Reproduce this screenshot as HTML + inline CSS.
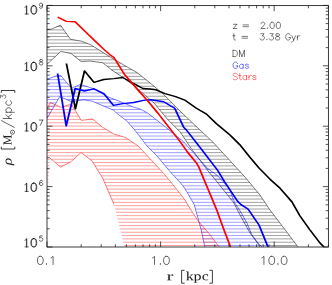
<!DOCTYPE html><html><head><meta charset="utf-8"><style>html,body{margin:0;padding:0;background:#fff;overflow:hidden}svg{display:block}</style></head><body><svg width="332" height="285" viewBox="0 0 332 285">
<rect width="100%" height="100%" fill="#fff"/>
<defs>
<clipPath id="cdm"><polygon points="47.0,29.4 51.0,29.3 60.4,25.1 70.5,39.3 81.1,41.1 90.6,44.7 113.7,59.2 137.4,72.8 150.0,82.9 161.9,92.8 169.2,100.0 180.0,111.0 200.0,130.0 212.8,142.0 230.0,160.7 244.7,176.7 260.0,195.0 270.0,210.0 286.0,231.0 298.0,247.0 260.0,247.0 256.0,241.0 250.0,233.0 240.0,215.0 233.8,202.8 215.5,180.0 207.3,170.0 191.0,148.2 180.0,131.8 167.4,119.2 153.7,102.7 133.8,85.6 122.8,77.4 111.9,70.1 102.8,62.8 90.0,61.0 81.1,61.5 70.9,53.4 60.7,51.5 47.0,64.3"/></clipPath>
<clipPath id="cbl"><polygon points="47.0,79.2 56.6,75.9 60.8,75.6 70.3,86.9 72.1,87.9 80.4,84.4 94.5,89.0 106.6,96.3 120.2,101.6 133.8,107.2 140.0,109.0 147.3,112.8 163.7,125.5 183.8,142.0 207.4,168.3 217.4,175.5 229.2,188.2 234.7,202.8 239.0,209.0 247.0,223.0 252.0,235.0 258.0,243.0 262.0,247.0 204.8,247.0 201.0,229.2 197.8,217.7 194.2,204.5 185.8,190.0 182.6,185.3 169.1,170.5 156.8,155.8 147.0,146.0 140.0,136.8 134.7,130.0 126.9,121.0 117.4,113.8 113.3,110.0 104.6,106.5 92.1,101.1 83.7,99.9 71.3,101.5 59.7,96.7 47.0,118.5"/></clipPath>
<clipPath id="crd"><polygon points="47.0,108.8 50.3,102.5 60.8,107.3 71.3,104.1 81.3,120.4 92.6,118.9 102.4,127.1 113.7,133.9 125.6,137.5 138.4,146.2 151.9,160.7 165.4,175.4 176.4,188.9 185.0,200.0 190.0,208.5 198.2,221.0 210.0,234.7 219.2,247.0 124.4,247.0 114.0,204.6 103.0,178.8 92.0,160.9 81.1,152.5 70.7,162.0 60.5,167.1 50.0,158.1 47.3,200.0"/></clipPath>
<clipPath id="cplot"><rect x="47.0" y="5.6" width="281.4" height="241.4"/></clipPath>
</defs>
<g clip-path="url(#cplot)">
<path d="M47.0 6.68H328.4M47.0 10.00H328.4M47.0 13.31H328.4M47.0 16.63H328.4M47.0 19.95H328.4M47.0 23.26H328.4M47.0 26.58H328.4M47.0 29.90H328.4M47.0 33.21H328.4M47.0 36.53H328.4M47.0 39.85H328.4M47.0 43.17H328.4M47.0 46.48H328.4M47.0 49.80H328.4M47.0 53.12H328.4M47.0 56.43H328.4M47.0 59.75H328.4M47.0 63.07H328.4M47.0 66.38H328.4M47.0 69.70H328.4M47.0 73.02H328.4M47.0 76.34H328.4M47.0 79.65H328.4M47.0 82.97H328.4M47.0 86.29H328.4M47.0 89.60H328.4M47.0 92.92H328.4M47.0 96.24H328.4M47.0 99.56H328.4M47.0 102.87H328.4M47.0 106.19H328.4M47.0 109.51H328.4M47.0 112.82H328.4M47.0 116.14H328.4M47.0 119.46H328.4M47.0 122.77H328.4M47.0 126.09H328.4M47.0 129.41H328.4M47.0 132.73H328.4M47.0 136.04H328.4M47.0 139.36H328.4M47.0 142.68H328.4M47.0 145.99H328.4M47.0 149.31H328.4M47.0 152.63H328.4M47.0 155.94H328.4M47.0 159.26H328.4M47.0 162.58H328.4M47.0 165.90H328.4M47.0 169.21H328.4M47.0 172.53H328.4M47.0 175.85H328.4M47.0 179.16H328.4M47.0 182.48H328.4M47.0 185.80H328.4M47.0 189.11H328.4M47.0 192.43H328.4M47.0 195.75H328.4M47.0 199.07H328.4M47.0 202.38H328.4M47.0 205.70H328.4M47.0 209.02H328.4M47.0 212.33H328.4M47.0 215.65H328.4M47.0 218.97H328.4M47.0 222.28H328.4M47.0 225.60H328.4M47.0 228.92H328.4M47.0 232.24H328.4M47.0 235.55H328.4M47.0 238.87H328.4M47.0 242.19H328.4M47.0 245.50H328.4" stroke="#000" stroke-width="0.65" stroke-opacity="0.58" fill="none" clip-path="url(#cdm)"/>
<polyline points="47.0,29.4 51.0,29.3 60.4,25.1 70.5,39.3 81.1,41.1 90.6,44.7 113.7,59.2 137.4,72.8 150.0,82.9 161.9,92.8 169.2,100.0 180.0,111.0 200.0,130.0 212.8,142.0 230.0,160.7 244.7,176.7 260.0,195.0 270.0,210.0 286.0,231.0 298.0,247.0" fill="none" stroke="#000" stroke-width="0.72" stroke-opacity="0.72"/>
<polyline points="47.0,64.3 60.7,51.5 70.9,53.4 81.1,61.5 90.0,61.0 102.8,62.8 111.9,70.1 122.8,77.4 133.8,85.6 153.7,102.7 167.4,119.2 180.0,131.8 191.0,148.2 207.3,170.0 215.5,180.0 233.8,202.8 240.0,215.0 250.0,233.0 256.0,241.0 260.0,247.0" fill="none" stroke="#000" stroke-width="0.72" stroke-opacity="0.72"/>
<path d="M47.0 6.68H328.4M47.0 10.00H328.4M47.0 13.31H328.4M47.0 16.63H328.4M47.0 19.95H328.4M47.0 23.26H328.4M47.0 26.58H328.4M47.0 29.90H328.4M47.0 33.21H328.4M47.0 36.53H328.4M47.0 39.85H328.4M47.0 43.17H328.4M47.0 46.48H328.4M47.0 49.80H328.4M47.0 53.12H328.4M47.0 56.43H328.4M47.0 59.75H328.4M47.0 63.07H328.4M47.0 66.38H328.4M47.0 69.70H328.4M47.0 73.02H328.4M47.0 76.34H328.4M47.0 79.65H328.4M47.0 82.97H328.4M47.0 86.29H328.4M47.0 89.60H328.4M47.0 92.92H328.4M47.0 96.24H328.4M47.0 99.56H328.4M47.0 102.87H328.4M47.0 106.19H328.4M47.0 109.51H328.4M47.0 112.82H328.4M47.0 116.14H328.4M47.0 119.46H328.4M47.0 122.77H328.4M47.0 126.09H328.4M47.0 129.41H328.4M47.0 132.73H328.4M47.0 136.04H328.4M47.0 139.36H328.4M47.0 142.68H328.4M47.0 145.99H328.4M47.0 149.31H328.4M47.0 152.63H328.4M47.0 155.94H328.4M47.0 159.26H328.4M47.0 162.58H328.4M47.0 165.90H328.4M47.0 169.21H328.4M47.0 172.53H328.4M47.0 175.85H328.4M47.0 179.16H328.4M47.0 182.48H328.4M47.0 185.80H328.4M47.0 189.11H328.4M47.0 192.43H328.4M47.0 195.75H328.4M47.0 199.07H328.4M47.0 202.38H328.4M47.0 205.70H328.4M47.0 209.02H328.4M47.0 212.33H328.4M47.0 215.65H328.4M47.0 218.97H328.4M47.0 222.28H328.4M47.0 225.60H328.4M47.0 228.92H328.4M47.0 232.24H328.4M47.0 235.55H328.4M47.0 238.87H328.4M47.0 242.19H328.4M47.0 245.50H328.4" stroke="#00f" stroke-width="0.65" stroke-opacity="0.58" fill="none" clip-path="url(#cbl)"/>
<polyline points="47.0,79.2 56.6,75.9 60.8,75.6 70.3,86.9 72.1,87.9 80.4,84.4 94.5,89.0 106.6,96.3 120.2,101.6 133.8,107.2 140.0,109.0 147.3,112.8 163.7,125.5 183.8,142.0 207.4,168.3 217.4,175.5 229.2,188.2 234.7,202.8 239.0,209.0 247.0,223.0 252.0,235.0 258.0,243.0 262.0,247.0" fill="none" stroke="#00f" stroke-width="0.72" stroke-opacity="0.72"/>
<polyline points="47.0,118.5 59.7,96.7 71.3,101.5 83.7,99.9 92.1,101.1 104.6,106.5 113.3,110.0 117.4,113.8 126.9,121.0 134.7,130.0 140.0,136.8 147.0,146.0 156.8,155.8 169.1,170.5 182.6,185.3 185.8,190.0 194.2,204.5 197.8,217.7 201.0,229.2 204.8,247.0" fill="none" stroke="#00f" stroke-width="0.72" stroke-opacity="0.72"/>
<path d="M47.0 6.68H328.4M47.0 10.00H328.4M47.0 13.31H328.4M47.0 16.63H328.4M47.0 19.95H328.4M47.0 23.26H328.4M47.0 26.58H328.4M47.0 29.90H328.4M47.0 33.21H328.4M47.0 36.53H328.4M47.0 39.85H328.4M47.0 43.17H328.4M47.0 46.48H328.4M47.0 49.80H328.4M47.0 53.12H328.4M47.0 56.43H328.4M47.0 59.75H328.4M47.0 63.07H328.4M47.0 66.38H328.4M47.0 69.70H328.4M47.0 73.02H328.4M47.0 76.34H328.4M47.0 79.65H328.4M47.0 82.97H328.4M47.0 86.29H328.4M47.0 89.60H328.4M47.0 92.92H328.4M47.0 96.24H328.4M47.0 99.56H328.4M47.0 102.87H328.4M47.0 106.19H328.4M47.0 109.51H328.4M47.0 112.82H328.4M47.0 116.14H328.4M47.0 119.46H328.4M47.0 122.77H328.4M47.0 126.09H328.4M47.0 129.41H328.4M47.0 132.73H328.4M47.0 136.04H328.4M47.0 139.36H328.4M47.0 142.68H328.4M47.0 145.99H328.4M47.0 149.31H328.4M47.0 152.63H328.4M47.0 155.94H328.4M47.0 159.26H328.4M47.0 162.58H328.4M47.0 165.90H328.4M47.0 169.21H328.4M47.0 172.53H328.4M47.0 175.85H328.4M47.0 179.16H328.4M47.0 182.48H328.4M47.0 185.80H328.4M47.0 189.11H328.4M47.0 192.43H328.4M47.0 195.75H328.4M47.0 199.07H328.4M47.0 202.38H328.4M47.0 205.70H328.4M47.0 209.02H328.4M47.0 212.33H328.4M47.0 215.65H328.4M47.0 218.97H328.4M47.0 222.28H328.4M47.0 225.60H328.4M47.0 228.92H328.4M47.0 232.24H328.4M47.0 235.55H328.4M47.0 238.87H328.4M47.0 242.19H328.4M47.0 245.50H328.4" stroke="#f00" stroke-width="0.65" stroke-opacity="0.58" fill="none" clip-path="url(#crd)"/>
<polyline points="47.0,108.8 50.3,102.5 60.8,107.3 71.3,104.1 81.3,120.4 92.6,118.9 102.4,127.1 113.7,133.9 125.6,137.5 138.4,146.2 151.9,160.7 165.4,175.4 176.4,188.9 185.0,200.0 190.0,208.5 198.2,221.0 210.0,234.7 219.2,247.0" fill="none" stroke="#f00" stroke-width="0.72" stroke-opacity="0.72"/>
<polyline points="50.0,158.1 60.5,167.1 70.7,162.0 81.1,152.5 92.0,160.9 103.0,178.8 114.0,204.6" fill="none" stroke="#f00" stroke-width="0.72" stroke-opacity="0.72"/>
<polyline points="51.08,63.5 58.00,108.9 65.00,70.9 72.31,82.4 79.77,79.5 87.46,78.6 94.46,77.5 102.92,83.7 109.92,88.5 115.38,89.0 120.00,89.8 126.92,93.6 135.08,96.6 142.62,100.4 151.08,108.2 158.85,114.1 166.54,123.8 176.92,135.0 184.46,144.7 192.31,157.3 199.31,168.2 207.69,179.2 215.46,188.3 220.38,195.6 224.62,202.0 230.77,216.0 238.46,230.0 246.15,243.0 249.23,247.0" fill="none" stroke="#000" stroke-width="1.4" stroke-linejoin="round" transform="scale(1.3 1)"/>
<polyline points="44.31,73.5 50.92,125.9 57.85,88.5 64.92,91.0 72.23,88.8 79.92,93.6 87.23,105.4 94.46,103.6 102.92,102.5 111.31,100.1 116.08,99.8 125.92,101.7 134.38,108.2 141.38,127.4 143.38,130.0 153.85,147.4 167.23,170.0 172.85,182.0 182.62,201.0 185.38,204.6 190.77,209.0 199.23,225.0 206.15,247.0" fill="none" stroke="#00f" stroke-width="1.4" stroke-linejoin="round" transform="scale(1.3 1)"/>
<polyline points="44.35,17.2 51.08,21.4 57.77,21.7 64.85,30.6 73.31,41.3 79.46,48.9 84.31,54.4 87.62,57.5 95.92,74.7 107.15,91.5 113.31,100.3 121.69,113.5 125.92,120.7 138.46,141.5 144.15,152.0 151.08,162.8 153.08,167.5 157.38,181.0 159.85,188.6 163.69,200.5 166.62,209.6 172.00,228.9 177.31,247.0" fill="none" stroke="#f00" stroke-width="1.4" stroke-linejoin="round" transform="scale(1.3 1)"/>
</g>
<rect x="47.0" y="5.6" width="281.4" height="241.4" fill="none" stroke="#1a1a1a" stroke-width="0.85"/>
<path d="M47.00 247.0v-5.5M47.00 5.6v5.5M81.20 247.0v-2.7M81.20 5.6v2.7M101.20 247.0v-2.7M101.20 5.6v2.7M115.39 247.0v-2.7M115.39 5.6v2.7M126.40 247.0v-2.7M126.40 5.6v2.7M135.40 247.0v-2.7M135.40 5.6v2.7M143.00 247.0v-2.7M143.00 5.6v2.7M149.59 247.0v-2.7M149.59 5.6v2.7M155.40 247.0v-2.7M155.40 5.6v2.7M160.60 247.0v-5.5M160.60 5.6v5.5M194.80 247.0v-2.7M194.80 5.6v2.7M214.80 247.0v-2.7M214.80 5.6v2.7M228.99 247.0v-2.7M228.99 5.6v2.7M240.00 247.0v-2.7M240.00 5.6v2.7M249.00 247.0v-2.7M249.00 5.6v2.7M256.60 247.0v-2.7M256.60 5.6v2.7M263.19 247.0v-2.7M263.19 5.6v2.7M269.00 247.0v-2.7M269.00 5.6v2.7M274.20 247.0v-5.5M274.20 5.6v5.5M308.40 247.0v-2.7M308.40 5.6v2.7M328.40 247.0v-2.7M328.40 5.6v2.7M47.0 247.00h5.5M328.4 247.00h-5.5M47.0 228.82h2.7M328.4 228.82h-2.7M47.0 218.18h2.7M328.4 218.18h-2.7M47.0 210.64h2.7M328.4 210.64h-2.7M47.0 204.78h2.7M328.4 204.78h-2.7M47.0 200.00h2.7M328.4 200.00h-2.7M47.0 195.96h2.7M328.4 195.96h-2.7M47.0 192.45h2.7M328.4 192.45h-2.7M47.0 189.36h2.7M328.4 189.36h-2.7M47.0 186.60h5.5M328.4 186.60h-5.5M47.0 168.42h2.7M328.4 168.42h-2.7M47.0 157.78h2.7M328.4 157.78h-2.7M47.0 150.24h2.7M328.4 150.24h-2.7M47.0 144.38h2.7M328.4 144.38h-2.7M47.0 139.60h2.7M328.4 139.60h-2.7M47.0 135.56h2.7M328.4 135.56h-2.7M47.0 132.05h2.7M328.4 132.05h-2.7M47.0 128.96h2.7M328.4 128.96h-2.7M47.0 126.20h5.5M328.4 126.20h-5.5M47.0 108.02h2.7M328.4 108.02h-2.7M47.0 97.38h2.7M328.4 97.38h-2.7M47.0 89.84h2.7M328.4 89.84h-2.7M47.0 83.98h2.7M328.4 83.98h-2.7M47.0 79.20h2.7M328.4 79.20h-2.7M47.0 75.16h2.7M328.4 75.16h-2.7M47.0 71.65h2.7M328.4 71.65h-2.7M47.0 68.56h2.7M328.4 68.56h-2.7M47.0 65.80h5.5M328.4 65.80h-5.5M47.0 47.62h2.7M328.4 47.62h-2.7M47.0 36.98h2.7M328.4 36.98h-2.7M47.0 29.44h2.7M328.4 29.44h-2.7M47.0 23.58h2.7M328.4 23.58h-2.7M47.0 18.80h2.7M328.4 18.80h-2.7M47.0 14.76h2.7M328.4 14.76h-2.7M47.0 11.25h2.7M328.4 11.25h-2.7M47.0 8.16h2.7M328.4 8.16h-2.7M47.0 5.40h5.5M328.4 5.40h-5.5" stroke="#1a1a1a" stroke-width="0.75" fill="none"/>
<path d="M24.82 240.19L25.61 239.79L26.80 238.61L26.80 246.90M26.40 239.00L26.40 246.90M25.02 246.90L28.38 246.90M33.37 238.61L32.09 239.00L31.24 240.19L30.81 242.16L30.81 243.34L31.24 245.32L32.09 246.50L33.37 246.90L34.23 246.90L35.51 246.50L36.36 245.32L36.79 243.34L36.79 242.16L36.36 240.19L35.51 239.00L34.23 238.61L33.37 238.61M33.46 238.61L32.44 239.00L31.76 240.19L31.42 242.16L31.42 243.34L31.76 245.32L32.44 246.50L33.46 246.90L34.14 246.90L35.16 246.50L35.84 245.32L36.18 243.34L36.18 242.16L35.84 240.19L35.16 239.00L34.14 238.61L33.46 238.61M24.82 184.69L25.61 184.29L26.80 183.11L26.80 191.40M26.40 183.50L26.40 191.40M25.02 191.40L28.38 191.40M33.37 183.11L32.09 183.50L31.24 184.69L30.81 186.66L30.81 187.84L31.24 189.82L32.09 191.00L33.37 191.40L34.23 191.40L35.51 191.00L36.36 189.82L36.79 187.84L36.79 186.66L36.36 184.69L35.51 183.50L34.23 183.11L33.37 183.11M33.46 183.11L32.44 183.50L31.76 184.69L31.42 186.66L31.42 187.84L31.76 189.82L32.44 191.00L33.46 191.40L34.14 191.40L35.16 191.00L35.84 189.82L36.18 187.84L36.18 186.66L35.84 184.69L35.16 183.50L34.14 183.11L33.46 183.11M24.82 124.28L25.61 123.89L26.80 122.70L26.80 131.00M26.40 123.10L26.40 131.00M25.02 131.00L28.38 131.00M33.37 122.70L32.09 123.10L31.24 124.28L30.81 126.26L30.81 127.44L31.24 129.42L32.09 130.60L33.37 131.00L34.23 131.00L35.51 130.60L36.36 129.42L36.79 127.44L36.79 126.26L36.36 124.28L35.51 123.10L34.23 122.70L33.37 122.70M33.46 122.70L32.44 123.10L31.76 124.28L31.42 126.26L31.42 127.44L31.76 129.42L32.44 130.60L33.46 131.00L34.14 131.00L35.16 130.60L35.84 129.42L36.18 127.44L36.18 126.26L35.84 124.28L35.16 123.10L34.14 122.70L33.46 122.70M24.82 63.89L25.61 63.49L26.80 62.31L26.80 70.60M26.40 62.70L26.40 70.60M25.02 70.60L28.38 70.60M33.37 62.31L32.09 62.70L31.24 63.89L30.81 65.86L30.81 67.05L31.24 69.02L32.09 70.21L33.37 70.60L34.23 70.60L35.51 70.21L36.36 69.02L36.79 67.05L36.79 65.86L36.36 63.89L35.51 62.70L34.23 62.31L33.37 62.31M33.46 62.31L32.44 62.70L31.76 63.89L31.42 65.86L31.42 67.05L31.76 69.02L32.44 70.21L33.46 70.60L34.14 70.60L35.16 70.21L35.84 69.02L36.18 67.05L36.18 65.86L35.84 63.89L35.16 62.70L34.14 62.31L33.46 62.31M24.82 7.29L25.61 6.89L26.80 5.71L26.80 14.00M26.40 6.10L26.40 14.00M25.02 14.00L28.38 14.00M33.37 5.71L32.09 6.10L31.24 7.29L30.81 9.26L30.81 10.45L31.24 12.42L32.09 13.61L33.37 14.00L34.23 14.00L35.51 13.61L36.36 12.42L36.79 10.45L36.79 9.26L36.36 7.29L35.51 6.10L34.23 5.71L33.37 5.71M33.46 5.71L32.44 6.10L31.76 7.29L31.42 9.26L31.42 10.45L31.76 12.42L32.44 13.61L33.46 14.00L34.14 14.00L35.16 13.61L35.84 12.42L36.18 10.45L36.18 9.26L35.84 7.29L35.16 6.10L34.14 5.71L33.46 5.71" fill="none" stroke="#000" stroke-width="0.7" stroke-opacity="0.85" stroke-linecap="round" stroke-linejoin="round"/>
<path d="M42.30 235.95L39.80 235.95L39.55 238.20L39.80 237.95L40.55 237.70L41.30 237.70L42.05 237.95L42.55 238.45L42.80 239.20L42.80 239.70L42.55 240.45L42.05 240.95L41.30 241.20L40.55 241.20L39.80 240.95L39.55 240.70L39.30 240.20M42.55 181.20L42.30 180.70L41.55 180.45L41.05 180.45L40.30 180.70L39.80 181.45L39.55 182.70L39.55 183.95L39.80 184.95L40.30 185.45L41.05 185.70L41.30 185.70L42.05 185.45L42.55 184.95L42.80 184.20L42.80 183.95L42.55 183.20L42.05 182.70L41.30 182.45L41.05 182.45L40.30 182.70L39.80 183.20L39.55 183.95M42.80 120.05L40.30 125.30M39.30 120.05L42.80 120.05M40.55 59.65L39.80 59.90L39.55 60.40L39.55 60.90L39.80 61.40L40.30 61.65L41.30 61.90L42.05 62.15L42.55 62.65L42.80 63.15L42.80 63.90L42.55 64.40L42.30 64.65L41.55 64.90L40.55 64.90L39.80 64.65L39.55 64.40L39.30 63.90L39.30 63.15L39.55 62.65L40.05 62.15L40.80 61.90L41.80 61.65L42.30 61.40L42.55 60.90L42.55 60.40L42.30 59.90L41.55 59.65L40.55 59.65M42.55 4.80L42.30 5.55L41.80 6.05L41.05 6.30L40.80 6.30L40.05 6.05L39.55 5.55L39.30 4.80L39.30 4.55L39.55 3.80L40.05 3.30L40.80 3.05L41.05 3.05L41.80 3.30L42.30 3.80L42.55 4.80L42.55 6.05L42.30 7.30L41.80 8.05L41.05 8.30L40.55 8.30L39.80 8.05L39.55 7.55" fill="none" stroke="#000" stroke-width="0.7" stroke-opacity="0.85" stroke-linecap="round" stroke-linejoin="round"/>
<path d="M39.91 256.31L38.67 256.70L37.85 257.87L37.44 259.82L37.44 260.99L37.85 262.94L38.67 264.11L39.91 264.50L40.73 264.50L41.97 264.11L42.79 262.94L43.20 260.99L43.20 259.82L42.79 257.87L41.97 256.70L40.73 256.31L39.91 256.31M46.50 263.72L46.09 264.11L46.50 264.50L46.91 264.11L46.50 263.72M51.03 257.87L51.86 257.48L53.09 256.31L53.09 264.50M152.47 257.87L153.30 257.48L154.53 256.31L154.53 264.50M160.30 263.72L159.89 264.11L160.30 264.50L160.71 264.11L160.30 263.72M166.07 256.31L164.83 256.70L164.01 257.87L163.60 259.82L163.60 260.99L164.01 262.94L164.83 264.11L166.07 264.50L166.89 264.50L168.13 264.11L168.95 262.94L169.36 260.99L169.36 259.82L168.95 257.87L168.13 256.70L166.89 256.31L166.07 256.31M261.87 257.87L262.70 257.48L263.93 256.31L263.93 264.50M271.35 256.31L270.11 256.70L269.29 257.87L268.88 259.82L268.88 260.99L269.29 262.94L270.11 264.11L271.35 264.50L272.17 264.50L273.41 264.11L274.23 262.94L274.64 260.99L274.64 259.82L274.23 257.87L273.41 256.70L272.17 256.31L271.35 256.31M277.94 263.72L277.53 264.11L277.94 264.50L278.35 264.11L277.94 263.72M283.71 256.31L282.47 256.70L281.65 257.87L281.24 259.82L281.24 260.99L281.65 262.94L282.47 264.11L283.71 264.50L284.53 264.50L285.77 264.11L286.59 262.94L287.00 260.99L287.00 259.82L286.59 257.87L285.77 256.70L284.53 256.31L283.71 256.31" fill="none" stroke="#000" stroke-width="0.7" stroke-opacity="0.85" stroke-linecap="round" stroke-linejoin="round" />
<path d="M664 965V711H621L563 821Q513 821 444.5 807.5Q376 794 326 772V70L487 45V0H41V45L160 70V870L41 895V940H315L324 823Q384 873 486.5 919.0Q589 965 649 965Z" fill="#222" stroke="#222" stroke-width="11.6" transform="translate(166.70 280.20) scale(0.00969 -0.00605)"/>
<path d="M344 453 729 868 631 895V940H963V895L846 872L578 598L922 68L1024 45V0H639V45L725 70L467 475L344 340V70L444 45V0H59V45L178 70V1352L39 1376V1421H344Z" fill="#222" stroke="#222" stroke-width="11.6" transform="translate(185.80 280.20) scale(0.00769 -0.00605)"/>
<path d="M152 870 45 895V940H309L311 885Q353 921 423.5 943.0Q494 965 567 965Q747 965 845.5 840.0Q944 715 944 481Q944 242 836.5 111.0Q729 -20 526 -20Q413 -20 311 2Q317 -70 317 -111V-365L481 -389V-436H33V-389L152 -365ZM764 481Q764 673 701.5 766.5Q639 860 512 860Q395 860 317 827V76Q406 59 512 59Q764 59 764 481Z" fill="#222" stroke="#222" stroke-width="11.6" transform="translate(193.60 280.20) scale(0.00775 -0.00605)"/>
<path d="M846 57Q797 21 711.0 0.5Q625 -20 535 -20Q78 -20 78 477Q78 712 194.5 838.5Q311 965 528 965Q663 965 823 934V672H768L725 838Q642 885 526 885Q258 885 258 477Q258 265 339.5 174.5Q421 84 592 84Q738 84 846 117Z" fill="#222" stroke="#222" stroke-width="11.6" transform="translate(201.80 280.20) scale(0.00757 -0.00605)"/>
<path d="M184.6 270.3H181.6V283.2H184.6M209.4 270.3H212.4V283.2H209.4" fill="none" stroke="#000" stroke-width="0.9" stroke-opacity="0.85"/>
<path d="M236.80 24.30L233.42 28.50M233.42 24.30L236.80 24.30M233.42 28.50L236.80 28.50M243.03 24.90L248.55 24.90M243.03 26.70L248.55 26.70M261.13 23.70L261.13 23.40L261.44 22.80L261.74 22.50L262.36 22.20L263.58 22.20L264.20 22.50L264.50 22.80L264.81 23.40L264.81 24.00L264.50 24.60L263.89 25.50L260.82 28.50L265.12 28.50M267.57 27.90L267.27 28.20L267.57 28.50L267.88 28.20L267.57 27.90M271.87 22.20L270.95 22.50L270.34 23.40L270.03 24.90L270.03 25.80L270.34 27.30L270.95 28.20L271.87 28.50L272.49 28.50L273.41 28.20L274.02 27.30L274.33 25.80L274.33 24.90L274.02 23.40L273.41 22.50L272.49 22.20L271.87 22.20M278.01 22.20L277.09 22.50L276.48 23.40L276.17 24.90L276.17 25.80L276.48 27.30L277.09 28.20L278.01 28.50L278.63 28.50L279.55 28.20L280.16 27.30L280.47 25.80L280.47 24.90L280.16 23.40L279.55 22.50L278.63 22.20L278.01 22.20M233.84 33.70L233.84 38.80L234.14 39.70L234.76 40.00L235.37 40.00M232.91 35.80L235.06 35.80M242.03 36.40L247.55 36.40M242.03 38.20L247.55 38.20M260.74 33.70L264.11 33.70L262.27 36.10L263.19 36.10L263.81 36.40L264.11 36.70L264.42 37.60L264.42 38.20L264.11 39.10L263.50 39.70L262.58 40.00L261.66 40.00L260.74 39.70L260.43 39.40L260.12 38.80M266.88 39.40L266.57 39.70L266.88 40.00L267.18 39.70L266.88 39.40M269.94 33.70L273.32 33.70L271.48 36.10L272.40 36.10L273.01 36.40L273.32 36.70L273.63 37.60L273.63 38.20L273.32 39.10L272.71 39.70L271.79 40.00L270.87 40.00L269.94 39.70L269.64 39.40L269.33 38.80M277.01 33.70L276.08 34.00L275.78 34.60L275.78 35.20L276.08 35.80L276.70 36.10L277.93 36.40L278.85 36.70L279.46 37.30L279.77 37.90L279.77 38.80L279.46 39.40L279.15 39.70L278.23 40.00L277.01 40.00L276.08 39.70L275.78 39.40L275.47 38.80L275.47 37.90L275.78 37.30L276.39 36.70L277.31 36.40L278.54 36.10L279.15 35.80L279.46 35.20L279.46 34.60L279.15 34.00L278.23 33.70L277.01 33.70M290.33 35.20L290.02 34.60L289.41 34.00L288.79 33.70L287.56 33.70L286.95 34.00L286.34 34.60L286.03 35.20L285.72 36.10L285.72 37.60L286.03 38.50L286.34 39.10L286.95 39.70L287.56 40.00L288.79 40.00L289.41 39.70L290.02 39.10L290.33 38.50L290.33 37.60M288.79 37.60L290.33 37.60M291.86 35.80L293.70 40.00M295.55 35.80L293.70 40.00L293.09 41.20L292.48 41.80L291.86 42.10L291.55 42.10M297.39 35.80L297.39 40.00M297.39 37.60L297.69 36.70L298.31 36.10L298.92 35.80L299.84 35.80M233.03 50.30L233.03 56.60M233.03 50.30L235.18 50.30L236.10 50.60L236.71 51.20L237.02 51.80L237.33 52.70L237.33 54.20L237.02 55.10L236.71 55.70L236.10 56.30L235.18 56.60L233.03 56.60M239.48 50.30L239.48 56.60M239.48 50.30L241.93 56.60M244.39 50.30L241.93 56.60M244.39 50.30L244.39 56.60" fill="none" stroke="#000" stroke-width="0.65" stroke-opacity="0.8" stroke-linecap="round" stroke-linejoin="round" />
<path d="M237.63 63.60L237.32 63.00L236.70 62.40L236.09 62.10L234.86 62.10L234.25 62.40L233.63 63.00L233.33 63.60L233.02 64.50L233.02 66.00L233.33 66.90L233.63 67.50L234.25 68.10L234.86 68.40L236.09 68.40L236.70 68.10L237.32 67.50L237.63 66.90L237.63 66.00M236.09 66.00L237.63 66.00M243.15 64.20L243.15 68.40M243.15 65.10L242.54 64.50L241.92 64.20L241.00 64.20L240.39 64.50L239.78 65.10L239.47 66.00L239.47 66.60L239.78 67.50L240.39 68.10L241.00 68.40L241.92 68.40L242.54 68.10L243.15 67.50M248.68 65.10L248.37 64.50L247.45 64.20L246.53 64.20L245.61 64.50L245.30 65.10L245.61 65.70L246.22 66.00L247.76 66.30L248.37 66.60L248.68 67.20L248.68 67.50L248.37 68.10L247.45 68.40L246.53 68.40L245.61 68.10L245.30 67.50" fill="none" stroke="#00f" stroke-width="0.65" stroke-opacity="0.8" stroke-linecap="round" stroke-linejoin="round" />
<path d="M237.32 74.30L236.70 73.70L235.78 73.40L234.56 73.40L233.63 73.70L233.02 74.30L233.02 74.90L233.33 75.50L233.63 75.80L234.25 76.10L236.09 76.70L236.70 77.00L237.01 77.30L237.32 77.90L237.32 78.80L236.70 79.40L235.78 79.70L234.56 79.70L233.63 79.40L233.02 78.80M239.77 73.40L239.77 78.50L240.08 79.40L240.70 79.70L241.31 79.70M238.85 75.50L241.00 75.50M246.53 75.50L246.53 79.70M246.53 76.40L245.91 75.80L245.30 75.50L244.38 75.50L243.77 75.80L243.15 76.40L242.84 77.30L242.84 77.90L243.15 78.80L243.77 79.40L244.38 79.70L245.30 79.70L245.91 79.40L246.53 78.80M248.98 75.50L248.98 79.70M248.98 77.30L249.29 76.40L249.91 75.80L250.52 75.50L251.44 75.50M256.05 76.40L255.74 75.80L254.82 75.50L253.90 75.50L252.98 75.80L252.67 76.40L252.98 77.00L253.59 77.30L255.12 77.60L255.74 77.90L256.05 78.50L256.05 78.80L255.74 79.40L254.82 79.70L253.90 79.70L252.98 79.40L252.67 78.80" fill="none" stroke="#f00" stroke-width="0.65" stroke-opacity="0.8" stroke-linecap="round" stroke-linejoin="round" />
<g transform="translate(11.5,165.3) rotate(-90)">
<path d="M428 -20Q306 -20 194 22L113 -436H-52L124 561Q157 756 266.0 858.5Q375 961 542 961Q713 961 817.0 851.0Q921 741 921 550Q921 383 860.0 252.5Q799 122 686.0 51.0Q573 -20 428 -20ZM425 60Q573 60 660.0 202.0Q747 344 747 561Q747 701 691.0 780.5Q635 860 537 860Q343 860 292 575L209 108Q322 60 425 60Z" fill="#222" stroke="#222" stroke-width="11.4" transform="translate(0.20 0.00) scale(0.00738 -0.00615)"/>
<path d="M18.6 -10.2H16.3V3.3H18.6M72.5 -10.2H74.8V3.3H72.5" fill="none" stroke="#000" stroke-width="0.9" stroke-opacity="0.85"/>
<path d="M862 0H827L336 1153V80L516 53V0H59V53L231 80V1262L59 1288V1341H465L901 321L1377 1341H1761V1288L1589 1262V80L1761 53V0H1217V53L1397 80V1153Z" fill="#222" stroke="#222" stroke-width="11.6" transform="translate(20.30 0.00) scale(0.00563 -0.00605)"/>
<circle cx="33.1" cy="1.0" r="2.05" fill="none" stroke="#000" stroke-width="0.7" stroke-opacity="0.85"/><circle cx="33.1" cy="1.0" r="0.5" fill="#000" fill-opacity="0.85"/>
<path d="M44.65 -10.00L37.90 2.80M46.80 -8.40L46.80 0.00M50.55 -5.60L46.80 -1.60M48.30 -3.20L50.92 0.00M53.00 -5.60L53.00 2.80M53.00 -4.40L53.75 -5.20L54.50 -5.60L55.62 -5.60L56.38 -5.20L57.12 -4.40L57.50 -3.20L57.50 -2.40L57.12 -1.20L56.38 -0.40L55.62 0.00L54.50 0.00L53.75 -0.40L53.00 -1.20M64.53 -4.40L63.77 -5.20L63.02 -5.60L61.90 -5.60L61.15 -5.20L60.40 -4.40L60.02 -3.20L60.02 -2.40L60.40 -1.20L61.15 -0.40L61.90 0.00L63.02 0.00L63.77 -0.40L64.53 -1.20" fill="none" stroke="#000" stroke-width="0.7" stroke-opacity="0.85" stroke-linecap="round" stroke-linejoin="round" />
<path d="M67.40 -10.95L70.15 -10.95L68.65 -8.98L69.40 -8.98L69.90 -8.74L70.15 -8.49L70.40 -7.76L70.40 -7.27L70.15 -6.54L69.65 -6.04L68.90 -5.80L68.15 -5.80L67.40 -6.04L67.15 -6.29L66.90 -6.78" fill="none" stroke="#000" stroke-width="0.6" stroke-opacity="0.85" stroke-linecap="round" stroke-linejoin="round" />
</g>
</svg></body></html>
